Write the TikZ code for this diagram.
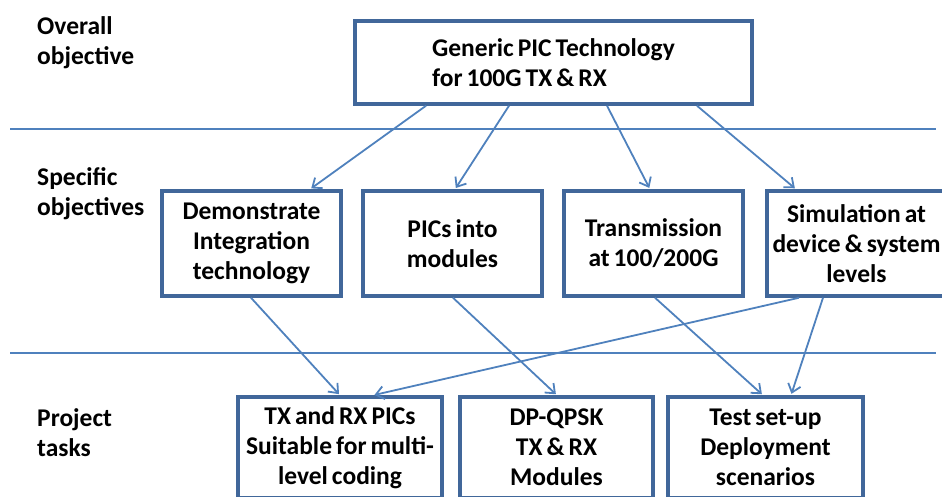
\documentclass[tikz,border=0pt]{standalone}
\usepackage{fontspec}
\setmainfont[WordSpace=0.7]{Carlito}
\usetikzlibrary{arrows.meta}
\definecolor{boxc}{HTML}{41679A}
\definecolor{linec}{HTML}{4F81BD}
\begin{document}
\begin{tikzpicture}[x=1pt,y=-1pt,
  txt/.style={font=\bfseries\fontsize{25.5}{30}\selectfont},
  box/.style={txt, draw=boxc, line width=3.5pt, fill=white, inner sep=0pt, align=center},
  lab/.style={txt, anchor=base west, inner sep=0pt, align=left},
  conn/.style={draw=linec, line width=1.8pt, shorten >=1.5pt, -{Straight Barb[length=8pt,width=13pt,line width=1.8pt]}},
  rule/.style={draw=linec, line width=1.8pt}]
\useasboundingbox (0,0) rectangle (942,496);
\clip (0,0) rectangle (942,496);
% separator lines
\coordinate (r1a) at (10,129);
\coordinate (r1b) at (936,129);
\coordinate (r2a) at (10,353);
\coordinate (r2b) at (936,353);
\draw[rule] (r1a) -- (r1b);
\draw[rule] (r2a) -- (r2b);
% row labels (base anchor = baseline of last line)
\node[lab] (l1) at (37,64) {Overall\\objective};
\node[lab] (l2) at (37,215) {Specific\\objectives};
\node[lab] (l3) at (37,456) {Project\\tasks};
% top box
\node[box, minimum width=397pt, minimum height=83pt, align=left] (top) at (553.5,62.5) {Generic PIC Technology\\for 100G TX \& RX};
% middle boxes
\node[box, minimum width=179pt, minimum height=105pt] (d1) at (251.5,243.5) {Demonstrate\\Integration\\technology};
\node[box, minimum width=179pt, minimum height=105pt] (d2) at (452.5,243.5) {PICs into\\modules};
\node[box, minimum width=179pt, minimum height=105pt] (d3) at (653.5,243.5) {Transmission\\at 100/200G};
\node[box, minimum width=179pt, minimum height=105pt] (d4) at (856.5,243.5) {Simulation at\\device \& system\\levels};
% bottom boxes
\node[box, minimum width=204pt, minimum height=101pt] (t1) at (340,447.5) {TX and RX PICs\\Suitable for multi-\\level coding};
\node[box, minimum width=193pt, minimum height=101pt] (t2) at (556.5,447.5) {DP-QPSK\\TX \& RX\\Modules};
\node[box, minimum width=195pt, minimum height=101pt] (t3) at (765.5,447.5) {Test set-up\\Deployment\\scenarios};
% connectors
\draw[conn] ([xshift=-127.5pt]top.south) -- ([xshift=58.5pt]d1.north);
\draw[conn] ([xshift=-44.5pt]top.south) -- ([xshift=2.5pt]d2.north);
\draw[conn] ([xshift=53.5pt]top.south) -- ([xshift=-3.5pt]d3.north);
\draw[conn] ([xshift=143.5pt]top.south) -- ([xshift=-60.5pt]d4.north);
\draw[conn] ([xshift=-0.5pt]d1.south) -- ([xshift=0pt]t1.north);
\draw[conn] ([xshift=0.5pt]d2.south) -- ([xshift=0.5pt]t2.north);
\draw[conn] ([xshift=1.5pt]d3.south) -- ([xshift=-2.5pt]t3.north);
\draw[conn] ([xshift=-33.5pt]d4.south) -- ([xshift=25.5pt]t3.north);
\draw[conn] ([xshift=-57.5pt]d4.south) -- ([xshift=33pt]t1.north);
\end{tikzpicture}
\end{document}
